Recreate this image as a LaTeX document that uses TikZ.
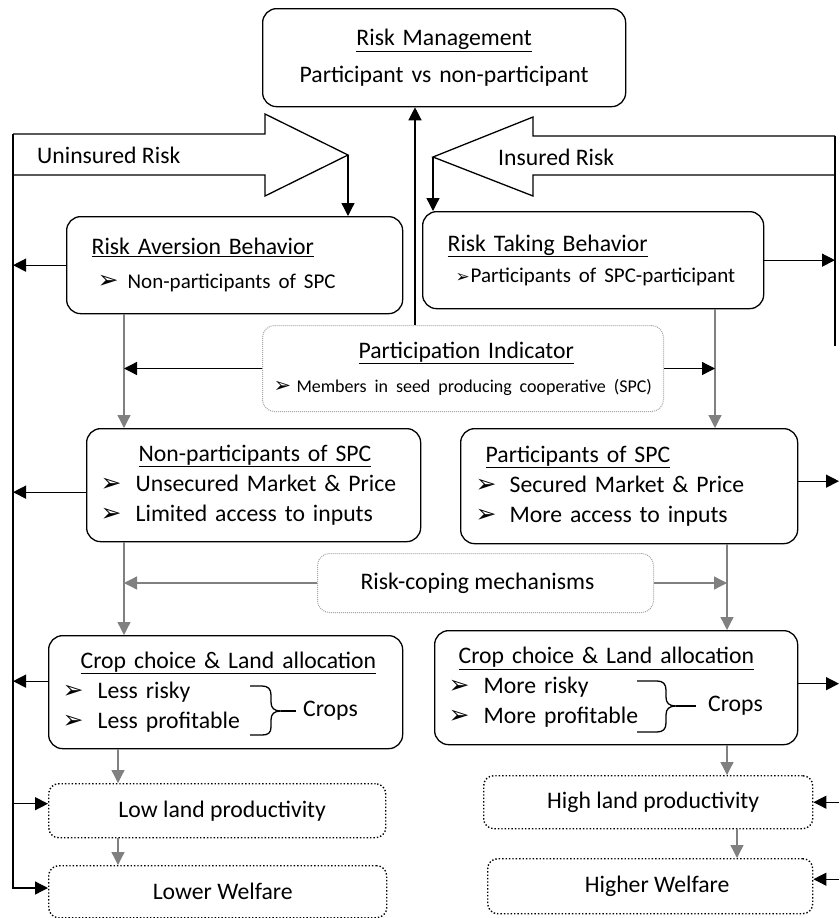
\documentclass[tikz,border=0pt]{standalone}
\usepackage{fontspec}
\setmainfont{Carlito}
\newfontfamily\symfont{DejaVu Sans}
\usetikzlibrary{arrows.meta}
\newcommand\itm[3][25]{\makebox[#2][l]{{\symfont\fontsize{#1}{#1}\selectfont ➢}}#3}
\begin{document}
\begin{tikzpicture}[x=1pt,y=-1pt,
  box/.style={draw, line width=1.3pt, rounded corners=14pt, anchor=north west, align=left, inner ysep=0pt},
  dbox/.style={draw=gray!70, densely dotted, line width=1pt, rounded corners=12pt, anchor=north west, inner sep=0pt, align=center},
  kbox/.style={draw, dotted, line width=1.4pt, rounded corners=10pt, anchor=north west, inner sep=0pt, align=center},
  arr/.style={line width=1.3pt, -{Triangle[length=13pt,width=13pt]}},
  garr/.style={arr, draw=gray, fill=gray},
  bigarrow/.style={draw, line width=1.3pt, line join=miter},
  lbl/.style={inner sep=0pt, anchor=west},
  font=\fontsize{23.7}{30}\selectfont]
\useasboundingbox (0,0) rectangle (839,918);
% columns and free ends
\coordinate (lt) at (13,134);
\coordinate (lb) at (13,888);
\coordinate (rt) at (835,136);
\coordinate (rb) at (835,346);
\coordinate (re) at (839,0);
\coordinate (cm) at (415,0);
\coordinate (cl) at (124,0);
\coordinate (cl2) at (118,0);
\coordinate (cr) at (715,0);
\coordinate (cr2) at (727,0);
\coordinate (cr3) at (737,0);

% boxes
\node[box, align=center, minimum width=363, minimum height=98, text width=343, inner xsep=10] (mgmt) at (262,8)
  {\underline{Risk Management}\\[7pt] Participant vs non-participant};
\node[box, minimum width=336, minimum height=97, text width=286, inner xsep=25] (aversion) at (66,216)
  {\underline{Risk Aversion Behavior}\\[4pt] \hspace*{6pt}\itm{30pt}{\fontsize{21}{26}\selectfont Non-participants of SPC}};
\node[box, minimum width=341, minimum height=97, text width=291, inner xsep=25] (taking) at (422,211)
  {\underline{Risk Taking Behavior}\\[1pt] \hspace*{8pt}\itm[17]{15pt}{\fontsize{21}{26}\selectfont Participants of SPC-participant}};
\node[dbox, align=left, minimum width=401, minimum height=86, text width=379, inner xsep=11] (pi) at (262,325)
  {\hspace*{85pt}\underline{Participation Indicator}\\[4pt] \mbox{\itm[21]{23pt}{\fontsize{18}{24}\selectfont Members in seed producing cooperative (SPC)}}};
\node[box, minimum width=334, minimum height=113, text width=306, inner xsep=14] (nonpart) at (86,428)
  {\hspace*{38pt}\underline{Non-participants of SPC}\\ \itm{35pt}{Unsecured Market \& Price}\\ \itm{35pt}{Limited access to inputs}};
\node[box, minimum width=337, minimum height=115, text width=307, inner xsep=15] (part) at (460,428)
  {\hspace*{10pt}\underline{Participants of SPC}\\ \itm{34pt}{Secured Market \& Price}\\ \itm{34pt}{More access to inputs}};
\node[dbox, minimum width=336, minimum height=59] (coping) at (317,553) {Risk-coping mechanisms\hspace*{16pt}};
\node[box, minimum width=354, minimum height=113, text width=326, inner xsep=14] (cropl) at (48,635)
  {\hspace*{18pt}\underline{Crop choice \& Land allocation}\\ \itm{35pt}{Less risky}\\ \itm{35pt}{Less profitable}};
\node[box, minimum width=363, minimum height=114, text width=335, inner xsep=14] (cropr) at (434,630)
  {\hspace*{10pt}\underline{Crop choice \& Land allocation}\\ \itm{35pt}{More risky}\\ \itm{35pt}{More profitable}};
\node[lbl] (cropsl) at (303,711) {Crops};
\node[lbl] (cropsr) at (708,706) {Crops};
\node[kbox, minimum width=337, minimum height=54] (low) at (48,783) {\hspace*{10pt}Low land productivity};
\node[kbox, minimum width=338, minimum height=52] (lower) at (48,865) {\hspace*{10pt}Lower Welfare};
\node[kbox, minimum width=329, minimum height=53] (high) at (483,775) {\hspace*{10pt}High land productivity};
\node[kbox, minimum width=325, minimum height=55] (higher) at (487,858) {\hspace*{14pt}Higher Welfare};

% braces
\draw[line width=1.3pt] (250,686) -- (262,686) .. controls (268,686) and (271,689) .. (271,695) -- (271,702)
  .. controls (271,708) and (274,711) .. (281,711) .. controls (274,711) and (271,714) .. (271,720) -- (271,727)
  .. controls (271,733) and (268,735) .. (262,735) -- (250,735);
\draw[line width=1.3pt] (281,711) -- ([xshift=-7pt]cropsl.west);
\draw[line width=1.3pt] (637,681) -- (657,681) .. controls (663,681) and (666,684) .. (666,690) -- (666,697)
  .. controls (666,703) and (669,706) .. (676,706) .. controls (669,706) and (666,709) .. (666,715) -- (666,723)
  .. controls (666,729) and (663,732) .. (657,732) -- (637,732);
\draw[line width=1.3pt] (676,706) -- ([xshift=-12pt]cropsr.west);

% big risk arrows
\draw[bigarrow] (lt) -- (265,134) -- (265,114) -- (348,155) coordinate (utip) -- (265,196) -- (265,175) -- (13,175);
\node[lbl] (unins) at (37,155) {Uninsured Risk};
\draw[bigarrow] (rt) -- (533,136) -- (533,117) -- (433,157) coordinate (itip) -- (533,196) -- (533,175) -- (835,175);
\node[lbl] (ins) at (498,157) {Insured Risk};
\draw[line width=1.3pt] (rt) -- (rb);
\draw[arr] (lt) -- (lb) -- (lb -| lower.west);

% connectors
\draw[arr] (utip) -- (utip |- aversion.north);
\draw[arr] (itip) -- (itip |- taking.north);
\draw[arr] (pi.north -| cm) -- (mgmt.south -| cm);
\draw[arr] (aversion.west) -- (aversion.west -| lt);
\draw[arr] (taking.east) -- (taking.east -| rt);
\draw[garr] (aversion.south -| cl) -- (nonpart.north -| cl);
\draw[garr] (taking.south -| cr) -- (part.north -| cr);
\draw[arr] (pi.west) -- (pi.west -| cl);
\draw[arr] (pi.east) -- (pi.east -| cr);
\draw[arr] ([yshift=-7pt]nonpart.west) -- ([yshift=-7pt]nonpart.west -| lt);
\draw[arr] ([yshift=5pt]part.east) -- ([yshift=5pt]part.east -| re);
\draw[garr] (nonpart.south -| cl) -- (cropl.north -| cl);
\draw[garr] (part.south -| cr2) -- (cropr.north -| cr2);
\draw[garr] (coping.west) -- (coping.west -| cl);
\draw[garr] (coping.east) -- (coping.east -| cr2);
\draw[arr] ([yshift=11pt]cropl.west) -- ([yshift=11pt]cropl.west -| lt);
\draw[arr] ([yshift=4pt]cropr.east) -- ([yshift=4pt]cropr.east -| re);
\draw[garr] (cropl.south -| cl2) -- (low.north -| cl2);
\draw[garr] (low.south -| cl2) -- (lower.north -| cl2);
\draw[arr] ([yshift=7pt]low.west -| lt) -- ([yshift=7pt]low.west);
\draw[garr] (cropr.south -| cr2) -- (high.north -| cr2);
\draw[garr] (high.south -| cr3) -- (higher.north -| cr3);
\draw[arr] (high.east -| re) -- (high.east);
\draw[arr] ([yshift=7pt]higher.east -| re) -- ([yshift=7pt]higher.east);
\end{tikzpicture}
\end{document}
